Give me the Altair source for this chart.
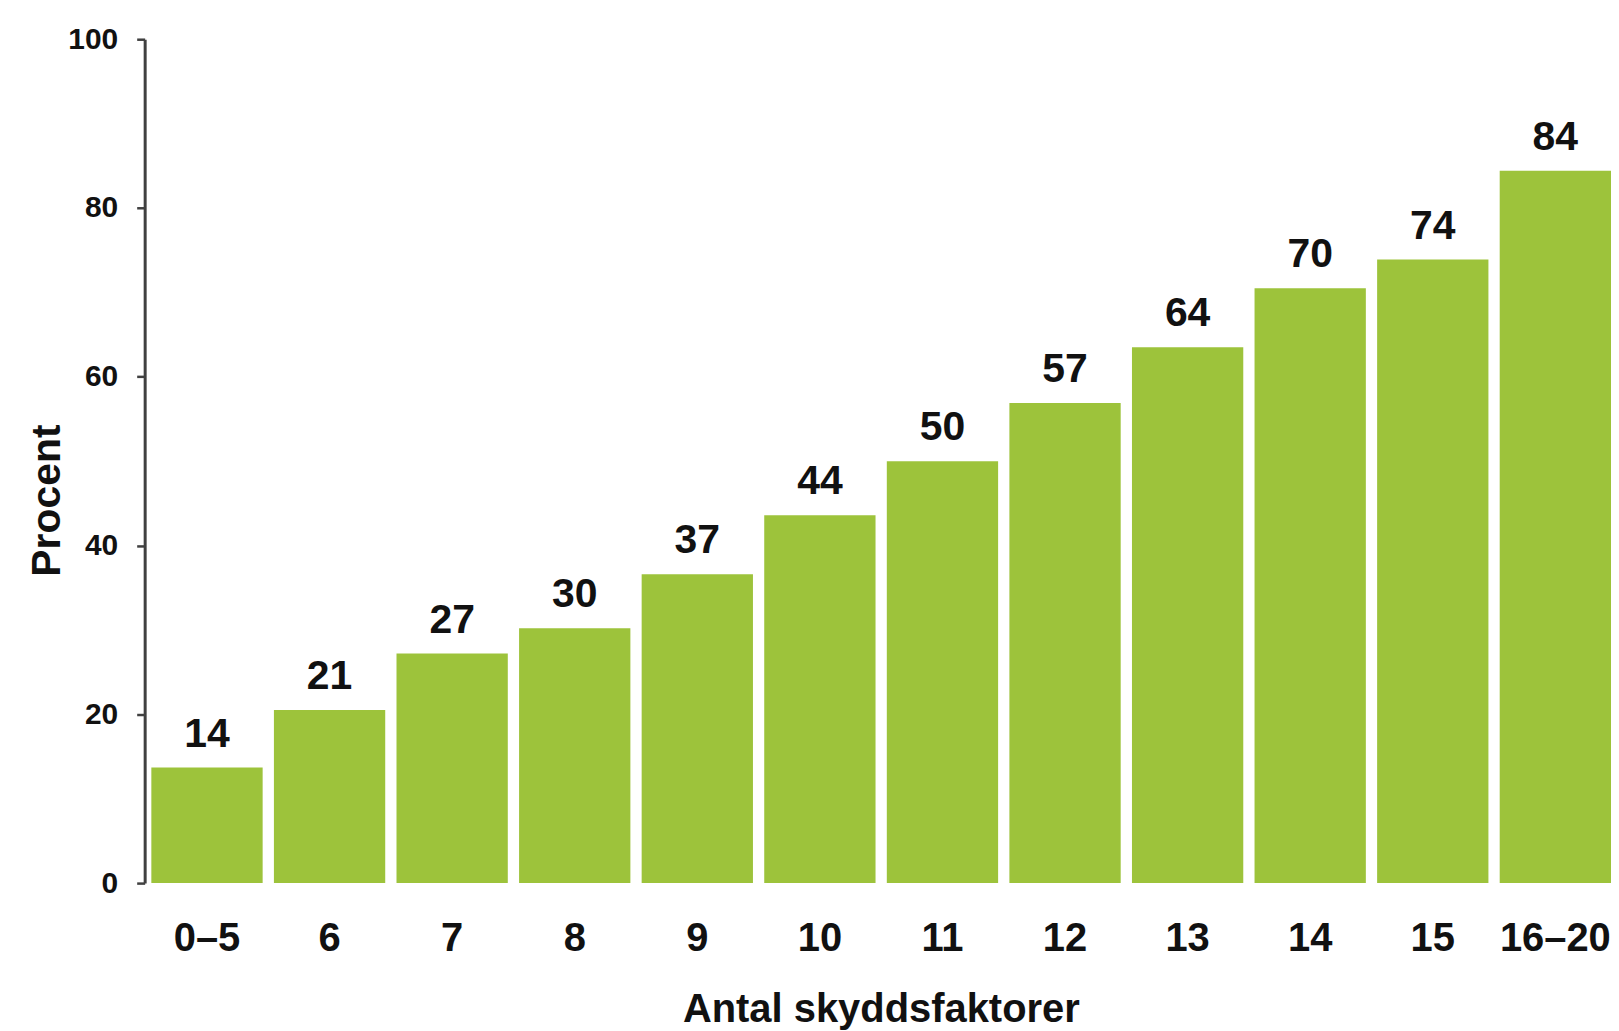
import altair as alt
import pandas as pd

categories = ["0–5", "6", "7", "8", "9", "10", "11", "12", "13", "14", "15", "16–20"]
values = [13.7, 20.5, 27.2, 30.2, 36.6, 43.6, 50.0, 56.9, 63.5, 70.5, 73.9, 84.4]
labels = ["14", "21", "27", "30", "37", "44", "50", "57", "64", "70", "74", "84"]

df = pd.DataFrame({"cat": categories, "val": values, "lab": labels})

FONT = "Liberation Sans"
PLOT_W = 1470
PLOT_H = 846

x = alt.X(
    "cat:N",
    sort=categories,
    scale=alt.Scale(range=[6.7, PLOT_W], paddingInner=0.092, paddingOuter=0),
    axis=alt.Axis(
        title="Antal skyddsfaktorer",
        labelAngle=0,
        ticks=False,
        tickSize=0,
        domain=False,
        grid=False,
        labelPadding=36,
        labelFont=FONT,
        labelFontSize=40,
        labelFontWeight="bold",
        labelColor="#111111",
        titleFont=FONT,
        titleFontSize=40,
        titleFontWeight="bold",
        titleColor="#111111",
        titleBaseline="alphabetic",
        titleY=139,
        titleX=PLOT_W / 2 + 3,
    ),
)

y = alt.Y(
    "val:Q",
    scale=alt.Scale(domain=[0, 100], nice=False, zero=True),
    axis=alt.Axis(
        title="Procent",
        values=[0, 20, 40, 60, 80, 100],
        grid=False,
        domainColor="#404040",
        domainWidth=3,
        tickColor="#404040",
        tickWidth=2.5,
        tickSize=8,
        labelPadding=19,
        labelFont=FONT,
        labelFontSize=30,
        labelFontWeight="bold",
        labelColor="#111111",
        titleFont=FONT,
        titleFontSize=41,
        titleFontWeight="bold",
        titleColor="#111111",
        titleAngle=-90,
        titleBaseline="alphabetic",
        titleAlign="center",
        titleX=-85,
        titleY=462,
    ),
)

bars = alt.Chart(df).mark_bar(color="#9DC33B").encode(x=x, y=y)

text = alt.Chart(df).mark_text(
    baseline="alphabetic",
    dy=-21,
    font=FONT,
    fontSize=41,
    fontWeight="bold",
    color="#111111",
).encode(x=x, y=y, text="lab:N")

chart = (
    alt.layer(bars, text)
    .properties(
        width=PLOT_W,
        height=PLOT_H,
        background="white",
        autosize=alt.AutoSizeParams(type="none"),
        padding={"left": 137, "top": 30, "right": 0, "bottom": 152},
    )
    .configure_view(strokeWidth=0, stroke="transparent")
)

chart.save("out.html", embed_options={"renderer": "svg", "actions": False})
